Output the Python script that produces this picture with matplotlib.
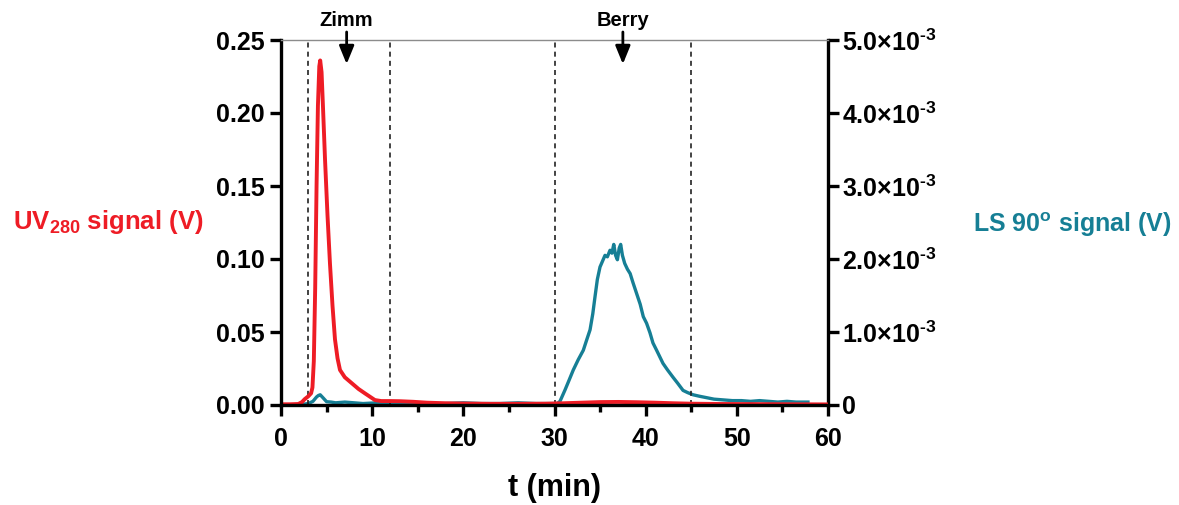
import matplotlib
matplotlib.use("Agg")
import matplotlib.pyplot as plt
import numpy as np

plt.rcParams['font.family'] = ['Liberation Sans', 'DejaVu Sans']
plt.rcParams['font.weight'] = 'bold'
plt.rcParams['mathtext.fontset'] = 'custom'
plt.rcParams['mathtext.rm'] = 'Liberation Sans:bold'
plt.rcParams['mathtext.it'] = 'Liberation Sans:bold'
plt.rcParams['mathtext.bf'] = 'Liberation Sans:bold'
plt.rcParams['mathtext.default'] = 'bf'

# UV280 signal (V), left axis
uv_t = [0, 1, 1.9, 2.3, 2.6, 3.0, 3.3, 3.45, 3.6, 3.75, 3.9, 4.05, 4.2, 4.3, 4.45, 4.6,
        4.83, 5.1, 5.37, 5.65, 5.92, 6.2, 6.47, 7.0, 7.75, 8.5, 9.2, 10.3, 11.0, 12.0,
        13.0, 14.5, 16, 18, 20, 23, 26, 29, 31, 33, 35, 37, 39, 41, 43, 45, 48, 52, 56, 60]
uv_v = [0.0005, 0.0005, 0.0007, 0.002, 0.004, 0.006, 0.008, 0.012, 0.03, 0.08, 0.15, 0.205,
        0.232, 0.236, 0.228, 0.205, 0.168, 0.13, 0.097, 0.068, 0.045, 0.032, 0.024, 0.019,
        0.015, 0.011, 0.008, 0.0034, 0.0027, 0.0027, 0.0026, 0.0022, 0.0016, 0.0012, 0.001,
        0.0008, 0.0008, 0.0009, 0.0012, 0.0016, 0.002, 0.0021, 0.0019, 0.0016, 0.0012,
        0.0009, 0.0007, 0.0006, 0.0005, 0.0004]

# LS 90 signal (V), right axis
ls_t = [2.4, 3.0, 3.5, 3.9, 4.1, 4.3, 4.6, 5.0, 5.5, 6.0, 7.0, 8.0, 9.0, 10.5, 12, 14, 16,
        18, 20, 22, 24, 26, 28, 29.5, 30.3, 30.6, 31.15, 31.6, 32.06, 32.6, 33.16, 33.5,
        33.9, 34.2, 34.44, 34.7, 34.99, 35.3, 35.54, 35.8, 36.09, 36.3, 36.5, 36.7, 36.9,
        37.1, 37.26, 37.45, 37.7, 38.0, 38.3, 38.6, 39.0, 39.4, 39.74, 40.1, 40.47, 40.8,
        41.2, 41.55, 41.9, 42.4, 43.0, 43.5, 44.1, 44.6, 45.2, 45.9, 46.7, 47.5, 48.5, 49.5,
        50.5, 51.5, 52.5, 53.5, 54.5, 55.5, 56.5, 57.8]
ls_v = [0.00001, 0.00002, 0.00005, 0.00011, 0.00013, 0.00014, 0.00010, 0.000045, 0.00004,
        0.00003, 0.00004, 0.00003, 0.00002, 0.00003, 0.00002, 0.00003, 0.00002, 0.00002,
        0.00003, 0.00002, 0.00002, 0.00003, 0.00002, 0.00002, 0.00002, 0.00005, 0.000205,
        0.00034, 0.00048, 0.00062, 0.00075, 0.00088, 0.00103, 0.00125, 0.00148, 0.00172,
        0.00189, 0.00198, 0.00205, 0.00203, 0.00212, 0.00208, 0.00220, 0.00205, 0.00199,
        0.00215, 0.00220, 0.00205, 0.00194, 0.00186, 0.00180, 0.00168, 0.00153, 0.00138,
        0.00121, 0.00112, 0.00099, 0.00085, 0.00075, 0.00066, 0.00057, 0.00048, 0.00038,
        0.00030, 0.00020, 0.00017, 0.00014, 0.00012, 0.00010, 0.00008, 0.00007, 0.00006,
        0.00006, 0.00005, 0.00006, 0.00005, 0.00004, 0.00005, 0.00004, 0.00004]

x_ticks = [0, 10, 20, 30, 40, 50, 60]
uv_ticks = [0.00, 0.05, 0.10, 0.15, 0.20, 0.25]
ls_ticks = [0, 1e-3, 2e-3, 3e-3, 4e-3, 5e-3]
ls_tick_labels = ['0', r'1.0×10$^{\text{-}3}$', r'2.0×10$^{\text{-}3}$', r'3.0×10$^{\text{-}3}$',
                  r'4.0×10$^{\text{-}3}$', r'5.0×10$^{\text{-}3}$']
window_lines = [3, 12, 30, 45]
markers = [("Zimm", 7.2), ("Berry", 37.5)]

red = '#ee1c25'
teal = '#167f95'

fig = plt.figure(figsize=(11.79, 5.05), dpi=100)
ax = fig.add_axes([281/1179, 1 - 405/505, (828 - 281)/1179, (405 - 40)/505])
ax2 = ax.twinx()
ax.set_zorder(ax2.get_zorder() + 1)
ax.patch.set_visible(False)

ax2.plot(ls_t, ls_v, color=teal, lw=2.4, solid_joinstyle='round')
ax.plot(uv_t, uv_v, color=red, lw=2.8, solid_joinstyle='round')

for xv in window_lines:
    ax.axvline(xv, color='#222222', lw=1.2, ls=(0, (3, 2.5)), zorder=1)

ax.set_xlim(0, 60)
ax.set_ylim(0, 0.25)
ax2.set_ylim(0, 5e-3)

ax.set_xticks(x_ticks)
ax.set_xticks([5, 15, 25, 35, 45, 55], minor=True)
ax.set_yticks(uv_ticks)
ax.set_yticklabels([f"{v:.2f}" for v in uv_ticks])
ax2.set_yticks(ls_ticks)
ax2.set_yticklabels(ls_tick_labels)

for a in (ax, ax2):
    for s in a.spines.values():
        s.set_linewidth(2.4)
        s.set_color('black')
    a.spines['top'].set_linewidth(1.0)
    a.spines['top'].set_color('#8c8c8c')

ax.spines['right'].set_visible(False)
ax2.spines['left'].set_visible(False)
ax2.spines['bottom'].set_visible(False)
ax2.spines['top'].set_visible(False)

ax.tick_params(axis='x', which='major', direction='out', length=8, width=2.4, labelsize=18, pad=8)
ax.tick_params(axis='x', which='minor', direction='out', length=5, width=2.4)
ax.tick_params(axis='y', direction='out', length=8, width=2.4, labelsize=18, pad=4)
ax2.tick_params(axis='y', direction='out', length=8, width=2.4, labelsize=18, pad=2)

ax.set_xlabel('t (min)', fontsize=22, fontweight='bold', labelpad=16)

fig.text(108/1179, 1 - 222/505, r'UV$_{280}$ signal (V)', color=red, fontsize=18.5,
         fontweight='bold', ha='center', va='center')
fig.text(1072/1179, 1 - 225/505, r'LS 90$^{o}$ signal (V)', color=teal, fontsize=18,
         fontweight='bold', ha='center', va='center')

for name, xv in markers:
    ax.annotate('', xy=(xv, 0.2335), xytext=(xv, 0.2555), annotation_clip=False,
                arrowprops=dict(arrowstyle='-|>,head_width=0.45,head_length=1.1',
                                color='black', lw=2, shrinkA=0, shrinkB=0))
    ax.text(xv, 0.2635, name, ha='center', va='center', fontsize=14.5, fontweight='bold',
            clip_on=False)

fig.savefig('out.png', dpi=100)
